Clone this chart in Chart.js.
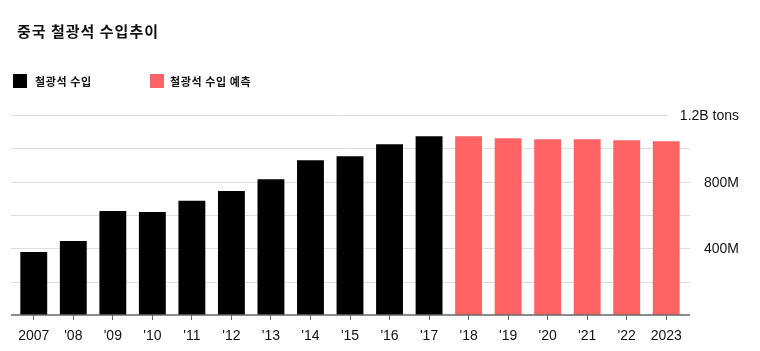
<!DOCTYPE html>
<html>
<head>
<meta charset="utf-8">
<script src="https://cdn.jsdelivr.net/npm/chart.js@4.4.1/dist/chart.umd.min.js"></script>
<style>
  html, body { margin: 0; padding: 0; background: #fff; }
  #wrap { position: relative; width: 760px; height: 351px; overflow: hidden; }
  #c { position: absolute; left: 0; top: 0; }
  .title { position: absolute; left: 17px; top: 23px; font-family: "Noto Sans CJK KR", sans-serif; font-weight: 700; font-size: 15px; line-height: 15px; letter-spacing: 1px; color: #111; white-space: nowrap; }
  .leg { position: absolute; top: 74px; height: 14px; display: flex; align-items: center; font-family: "Noto Sans CJK KR", sans-serif; font-weight: 700; font-size: 11px; letter-spacing: 0.6px; color: #111; white-space: nowrap; }
  .leg .sw { width: 14px; height: 14px; display: inline-block; }
</style>
</head>
<body>
<div id="wrap">
  <canvas id="c" width="760" height="351"></canvas>
  <div class="title" id="title"></div>
  <div class="leg" id="leg0" style="left:13px;"><span class="sw" id="sw0"></span><span id="lt0" style="margin-left:8px;"></span></div>
  <div class="leg" id="leg1" style="left:150px;"><span class="sw" id="sw1"></span><span id="lt1" style="margin-left:6px;"></span></div>
</div>
<script>
// ---- data ----
const titleText = "중국 철광석 수입추이";
const seriesNames = ["철광석 수입", "철광석 수입 예측"];
const categories = ["2007", "'08", "'09", "'10", "'11", "'12", "'13", "'14", "'15", "'16", "'17", "'18", "'19", "'20", "'21", "'22", "2023"];
// million tons
const actualValues = [378, 444, 624, 618, 686, 744, 814, 928, 952, 1024, 1072, null, null, null, null, null, null];
const forecastValues = [null, null, null, null, null, null, null, null, null, null, null, 1072, 1060, 1054, 1054, 1048, 1042];
const yTickValues = [400, 800, 1200];
const yTickLabels = ["400M", "800M", "1.2B tons"];
const Y_MAX = 1200;
const Y_STEP = 200;

const colors = ["#000000", "#ff6363"];

document.getElementById('title').textContent = titleText;
document.getElementById('lt0').textContent = seriesNames[0];
document.getElementById('lt1').textContent = seriesNames[1];
document.getElementById('sw0').style.background = colors[0];
document.getElementById('sw1').style.background = colors[1];

const numFont = { family: "'Liberation Sans', Arial, sans-serif", size: 14 };
const fontStr = numFont.size + 'px ' + numFont.family;

function yLabel(v) {
  const i = yTickValues.indexOf(v);
  return i >= 0 ? yTickLabels[i] : '';
}

const gridPlugin = {
  id: 'customGrid',
  beforeDatasetsDraw(chart) {
    const { ctx, chartArea, scales } = chart;
    const y = scales.y;
    ctx.save();
    ctx.lineWidth = 1;
    ctx.strokeStyle = '#dedede';
    ctx.font = fontStr;
    y.ticks.forEach(t => {
      if (t.value === 0) return;
      const py = Math.round(y.getPixelForValue(t.value)) + 0.5;
      let right = chartArea.right + 4;
      if (t.value === Y_MAX) {
        const w = ctx.measureText(yLabel(t.value)).width;
        right = y.right - w - 12;
      }
      ctx.beginPath();
      ctx.moveTo(chartArea.left - 3, py);
      ctx.lineTo(right, py);
      ctx.stroke();
    });
    ctx.restore();
  },
  afterDatasetsDraw(chart) {
    const { ctx, chartArea, scales } = chart;
    const y = scales.y;
    const py = y.getPixelForValue(0);
    ctx.save();
    ctx.lineWidth = 1.5;
    ctx.strokeStyle = '#666';
    ctx.beginPath();
    ctx.moveTo(chartArea.left - 3, py);
    ctx.lineTo(chartArea.right + 4, py);
    ctx.stroke();
    // y tick labels, right-aligned at the axis' right edge
    ctx.font = fontStr;
    ctx.fillStyle = '#111';
    ctx.textAlign = 'right';
    ctx.textBaseline = 'middle';
    yTickValues.forEach((v, i) => {
      ctx.fillText(yTickLabels[i], y.right, y.getPixelForValue(v) + 1);
    });
    ctx.restore();
  }
};

new Chart(document.getElementById('c'), {
  type: 'bar',
  data: {
    labels: categories,
    datasets: [
      { label: seriesNames[0], data: actualValues, backgroundColor: colors[0], borderWidth: 0, categoryPercentage: 1, barPercentage: 0.68 },
      { label: seriesNames[1], data: forecastValues, backgroundColor: colors[1], borderWidth: 0, categoryPercentage: 1, barPercentage: 0.68 }
    ]
  },
  options: {
    responsive: false,
    animation: false,
    devicePixelRatio: 1,
    layout: { padding: { top: 115, left: 14, right: 21, bottom: 0 } },
    plugins: { legend: { display: false }, title: { display: false }, tooltip: { enabled: false } },
    scales: {
      x: {
        stacked: true,
        offset: true,
        grid: { display: true, drawOnChartArea: false, drawTicks: true, tickLength: 5, color: '#666', offset: false },
        border: { display: false },
        ticks: { color: '#111', font: numFont, padding: 8, maxRotation: 0, autoSkip: false },
        afterFit(scale) { scale.height = 36; }
      },
      y: {
        stacked: true,
        position: 'right',
        min: 0,
        max: Y_MAX,
        grid: { display: false, drawTicks: false },
        border: { display: false },
        ticks: { stepSize: Y_STEP, display: false },
        afterFit(scale) { scale.width = 53; }
      }
    }
  },
  plugins: [gridPlugin]
});
</script>
</body>
</html>
